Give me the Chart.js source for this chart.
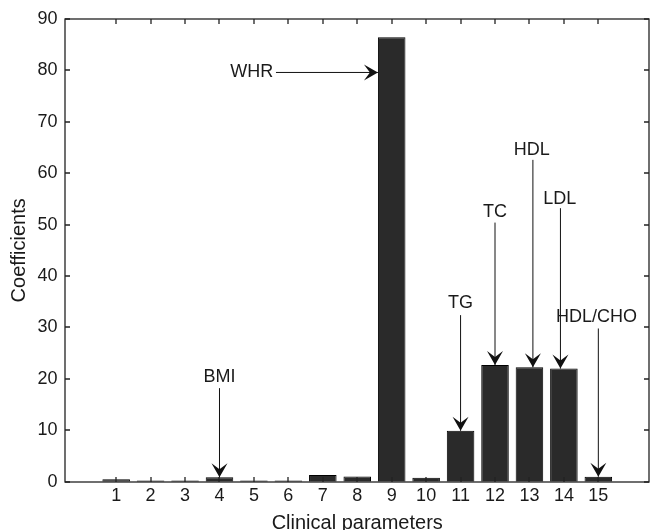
<!DOCTYPE html>
<html>
<head>
<meta charset="utf-8">
<script src="https://cdn.jsdelivr.net/npm/chart.js@4"></script>
<style>
  html, body { margin: 0; padding: 0; background: #fff; }
  canvas { display: block; }
</style>
</head>
<body>
<canvas id="coefChart" width="651" height="530"></canvas>
<script>
// Clinical parameter index and its coefficient
const categories = [1, 2, 3, 4, 5, 6, 7, 8, 9, 10, 11, 12, 13, 14, 15];
const coefficients = [0.5, 0.25, 0.25, 0.85, 0.25, 0.25, 1.3, 1.0, 86.45, 0.75, 9.9, 22.7, 22.25, 22.0, 0.97];

// y axis ticks
const yTicks = [0, 10, 20, 30, 40, 50, 60, 70, 80, 90];

// Annotations (all in data units)
const annText  = ['WHR', 'BMI', 'TG', 'TC', 'HDL', 'LDL', 'HDL/CHO'];
const annTextX = [5.56, 4, 11, 12, 13.07, 13.88, 14.95];
const annTextY = [79.6, 20.3, 34.8, 52.5, 64.5, 55.0, 32.0];
const annFromX = [5.64, 4, 11, 12, 13.1, 13.9, 15];
const annFromY = [79.6, 18.2, 32.4, 50.4, 62.6, 53.2, 29.8];
const annToX   = [8.6, 4, 11, 12, 13.1, 13.9, 15];
const annToY   = [79.6, 0.85, 9.9, 22.7, 22.25, 22.0, 0.97];

const FONT = 'Liberation Sans, Arial, sans-serif';
const INK = '#1a1a1a';

function drawArrowHead(ctx, x1, y1, x2, y2) {
    const ang = Math.atan2(y2 - y1, x2 - x1);
    const len = 14, half = 8, notch = 8;
    ctx.save();
    ctx.translate(x2, y2);
    ctx.rotate(ang);
    ctx.beginPath();
    ctx.moveTo(0, 0);
    ctx.lineTo(-len, -half);
    ctx.lineTo(-notch, 0);
    ctx.lineTo(-len, half);
    ctx.closePath();
    ctx.fill();
    ctx.restore();
}

const matlabAxes = {
    id: 'matlabAxes',
    afterDraw(chart) {
        const ctx = chart.ctx;
        const a = chart.chartArea;
        const x = chart.scales.x, y = chart.scales.y;
        const L = Math.round(a.left), R = Math.round(a.right) - 1;
        const T = Math.round(a.top), B = Math.round(a.bottom);
        ctx.save();
        ctx.strokeStyle = '#222';
        ctx.lineWidth = 1.3;

        // box
        ctx.strokeRect(L, T, R - L, B - T);

        // inward ticks
        const tl = 5;
        ctx.beginPath();
        categories.forEach(c => {
            const px = Math.round(x.getPixelForValue(c));
            ctx.moveTo(px, B); ctx.lineTo(px, B - tl);
            ctx.moveTo(px, T); ctx.lineTo(px, T + tl);
        });
        yTicks.forEach(v => {
            const py = Math.round(y.getPixelForValue(v));
            ctx.moveTo(L, py); ctx.lineTo(L + tl, py);
            ctx.moveTo(R, py); ctx.lineTo(R - tl, py);
        });
        ctx.stroke();

        // annotations
        ctx.strokeStyle = '#111';
        ctx.lineWidth = 1;
        ctx.font = '18px ' + FONT;
        annText.forEach((t, i) => {
            const fx = x.getPixelForValue(annFromX[i]);
            const fy = y.getPixelForValue(annFromY[i]);
            const tx = x.getPixelForValue(annToX[i]);
            const ty = y.getPixelForValue(annToY[i]);
            const horizontal = annFromY[i] === annToY[i];
            ctx.fillStyle = INK;
            ctx.textAlign = horizontal ? 'right' : 'center';
            ctx.textBaseline = 'middle';
            ctx.fillText(t, x.getPixelForValue(annTextX[i]), y.getPixelForValue(annTextY[i]));
            ctx.beginPath();
            ctx.moveTo(fx, fy);
            ctx.lineTo(tx, ty);
            ctx.stroke();
            ctx.fillStyle = '#111';
            drawArrowHead(ctx, fx, fy, tx, ty);
        });
        ctx.restore();
    }
};

new Chart(document.getElementById('coefChart'), {
    type: 'bar',
    data: {
        datasets: [{
            data: categories.map((c, i) => ({ x: c, y: coefficients[i] })),
            backgroundColor: '#2a2a2a',
            borderColor: '#000',
            borderWidth: 1,
            categoryPercentage: 1,
            barPercentage: 0.8
        }]
    },
    options: {
        responsive: false,
        devicePixelRatio: 1,
        animation: false,
        layout: { padding: { top: 19, right: 1, left: 0, bottom: 0 } },
        plugins: { legend: { display: false }, tooltip: { enabled: false } },
        scales: {
            x: {
                type: 'linear',
                min: 0,
                max: 16,
                grid: { display: false, drawTicks: false },
                border: { display: false },
                ticks: {
                    stepSize: 1,
                    padding: 4,
                    color: INK,
                    font: { family: FONT, size: 18 },
                    maxRotation: 0,
                    autoSkip: false,
                    callback: v => (v >= 1 && v <= 15) ? String(v) : ''
                },
                title: {
                    display: true,
                    text: 'Clinical parameters',
                    color: INK,
                    font: { family: FONT, size: 20, lineHeight: 1 },
                    padding: { top: 0, bottom: -3 }
                },
                afterFit: s => { s.height = 48.3; }
            },
            y: {
                min: 0,
                max: 90,
                grid: { display: false, drawTicks: false },
                border: { display: false },
                ticks: {
                    stepSize: 10,
                    padding: 7,
                    color: INK,
                    font: { family: FONT, size: 18 }
                },
                title: {
                    display: true,
                    text: 'Coefficients',
                    color: INK,
                    font: { family: FONT, size: 20, lineHeight: 1.2 },
                    padding: { top: 7, bottom: 0 }
                },
                afterFit: s => { s.width = 64.5; }
            }
        }
    },
    plugins: [matlabAxes]
});
</script>
</body>
</html>
